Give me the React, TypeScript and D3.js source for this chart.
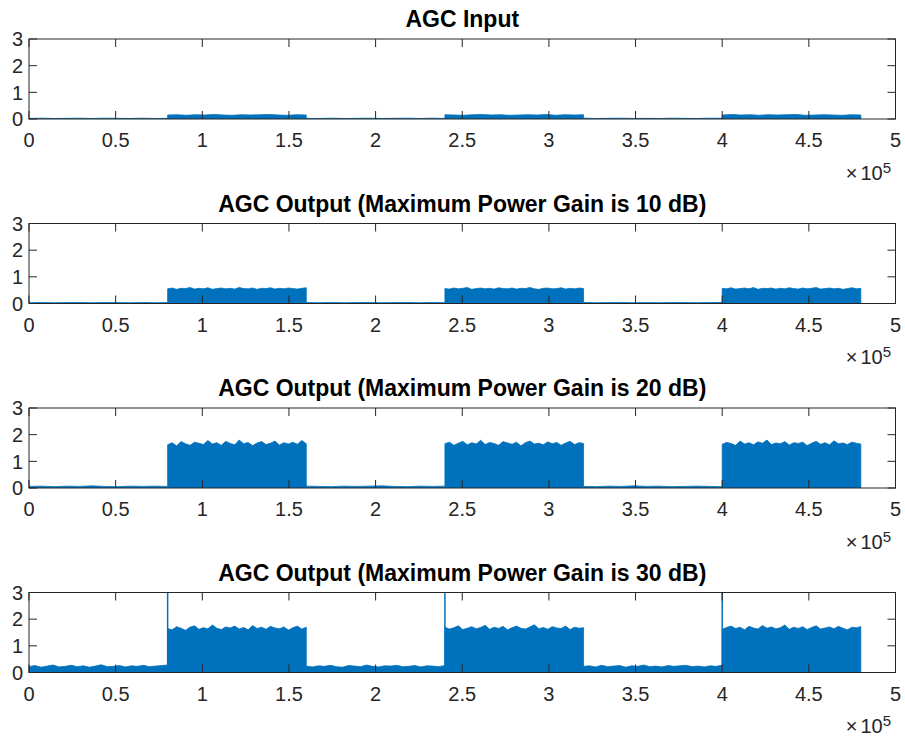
import * as d3 from "d3";

// segment boundaries (x in units of 1e5 samples)
const segStart = [0, 0.8, 1.6, 2.4, 3.2, 4.0];
const segEnd = [0.8, 1.6, 2.4, 3.2, 4.0, 4.8];
const xTicks = [0, 0.5, 1, 1.5, 2, 2.5, 3, 3.5, 4, 4.5, 5];
const yTicks = [0, 1, 2, 3];

const titles = [
  "AGC Input",
  "AGC Output (Maximum Power Gain is 10 dB)",
  "AGC Output (Maximum Power Gain is 20 dB)",
  "AGC Output (Maximum Power Gain is 30 dB)",
];

// AGC input
const inQuiet = [
  [0.02, 0.03, 0.02, 0.025, 0.03, 0.02, 0.03, 0.025, 0.02, 0.03, 0.02, 0.025],
  [0.025, 0.02, 0.03, 0.02, 0.025, 0.03, 0.02, 0.025, 0.03, 0.02, 0.03, 0.02],
  [0.03, 0.02, 0.025, 0.03, 0.02, 0.025, 0.02, 0.03, 0.025, 0.02, 0.03, 0.025],
];
const inBurst = [
  [0.15, 0.16, 0.14, 0.16, 0.15, 0.17, 0.15, 0.14, 0.16, 0.15, 0.16, 0.17, 0.15, 0.14, 0.16, 0.15],
  [0.16, 0.15, 0.14, 0.16, 0.17, 0.15, 0.16, 0.14, 0.15, 0.16, 0.15, 0.17, 0.14, 0.16, 0.15, 0.16],
  [0.15, 0.17, 0.15, 0.16, 0.14, 0.16, 0.15, 0.16, 0.17, 0.14, 0.15, 0.16, 0.15, 0.14, 0.16, 0.15],
];

// 10 dB
const out10Quiet = [
  [0.03, 0.04, 0.03, 0.035, 0.04, 0.03, 0.04, 0.035, 0.03, 0.04, 0.03, 0.035],
  [0.035, 0.03, 0.04, 0.03, 0.035, 0.04, 0.03, 0.035, 0.04, 0.03, 0.04, 0.03],
  [0.04, 0.03, 0.035, 0.04, 0.03, 0.035, 0.03, 0.04, 0.035, 0.03, 0.04, 0.035],
];
const out10Burst = [
  [0.55, 0.58, 0.53, 0.57, 0.56, 0.6, 0.54, 0.57, 0.55, 0.59, 0.53, 0.56, 0.58, 0.55, 0.57, 0.54, 0.6, 0.56, 0.55, 0.58, 0.53, 0.57, 0.56, 0.59, 0.54, 0.57, 0.55, 0.58, 0.56, 0.54, 0.57, 0.59],
  [0.56, 0.54, 0.58, 0.55, 0.57, 0.6, 0.53, 0.56, 0.58, 0.55, 0.57, 0.54, 0.59, 0.56, 0.55, 0.58, 0.54, 0.57, 0.56, 0.6, 0.55, 0.53, 0.57, 0.58, 0.55, 0.56, 0.59, 0.54, 0.57, 0.55, 0.58, 0.56],
  [0.57, 0.55, 0.59, 0.54, 0.56, 0.58, 0.55, 0.6, 0.53, 0.57, 0.56, 0.58, 0.54, 0.57, 0.55, 0.59, 0.56, 0.54, 0.58, 0.55, 0.57, 0.6, 0.54, 0.56, 0.58, 0.55, 0.57, 0.53, 0.56, 0.59, 0.55, 0.57],
];

// 20 dB
const out20Quiet = [
  [0.06, 0.07, 0.05, 0.07, 0.06, 0.08, 0.06, 0.05, 0.07, 0.06, 0.07, 0.06],
  [0.07, 0.06, 0.05, 0.07, 0.06, 0.07, 0.08, 0.06, 0.05, 0.07, 0.06, 0.07],
  [0.06, 0.05, 0.07, 0.06, 0.08, 0.06, 0.07, 0.05, 0.06, 0.07, 0.06, 0.05],
];
const out20Burst = [
  [1.62, 1.7, 1.58, 1.74, 1.66, 1.6, 1.72, 1.68, 1.63, 1.78, 1.65, 1.7, 1.6, 1.75, 1.67, 1.62, 1.8, 1.66, 1.71, 1.59, 1.69, 1.74, 1.63, 1.68, 1.76, 1.61, 1.7, 1.65, 1.72, 1.64, 1.78, 1.66],
  [1.66, 1.72, 1.6, 1.68, 1.75, 1.62, 1.7, 1.65, 1.79, 1.63, 1.71, 1.67, 1.6, 1.74, 1.69, 1.64, 1.72, 1.58, 1.7, 1.76, 1.65, 1.68, 1.62, 1.73, 1.66, 1.71, 1.6, 1.69, 1.75, 1.63, 1.7, 1.67],
  [1.64, 1.71, 1.67, 1.6, 1.76, 1.65, 1.7, 1.62, 1.73, 1.68, 1.8, 1.63, 1.69, 1.66, 1.74, 1.61, 1.7, 1.67, 1.72, 1.59, 1.68, 1.75, 1.64, 1.7, 1.62, 1.77, 1.66, 1.69, 1.63, 1.72, 1.68, 1.65],
];

// 30 dB
const out30Quiet = [
  [0.22, 0.26, 0.2, 0.24, 0.28, 0.21, 0.23, 0.27, 0.22, 0.25, 0.2, 0.24, 0.29, 0.22, 0.23, 0.26, 0.21, 0.25, 0.23, 0.27, 0.22, 0.24, 0.26, 0.28],
  [0.24, 0.21, 0.25, 0.23, 0.27, 0.22, 0.2, 0.26, 0.24, 0.22, 0.28, 0.23, 0.21, 0.25, 0.24, 0.27, 0.22, 0.23, 0.26, 0.21, 0.25, 0.24, 0.22, 0.26],
  [0.23, 0.25, 0.21, 0.27, 0.22, 0.24, 0.26, 0.2, 0.25, 0.23, 0.28, 0.22, 0.24, 0.21, 0.26, 0.23, 0.25, 0.27, 0.22, 0.24, 0.21, 0.25, 0.23, 0.27],
];
const out30Burst = [
  [1.65, 1.6, 1.72, 1.66, 1.58, 1.7, 1.75, 1.62, 1.68, 1.64, 1.78, 1.66, 1.61, 1.71, 1.67, 1.74, 1.63, 1.69, 1.6, 1.76, 1.65, 1.7, 1.62, 1.73, 1.67, 1.64, 1.71, 1.59, 1.68, 1.74, 1.63, 1.7],
  [1.7, 1.63, 1.68, 1.75, 1.61, 1.66, 1.72, 1.64, 1.69, 1.77, 1.62, 1.7, 1.65, 1.73, 1.6, 1.68, 1.74, 1.66, 1.63, 1.71, 1.79, 1.64, 1.69, 1.62, 1.72, 1.67, 1.65, 1.74, 1.61, 1.7, 1.66, 1.68],
  [1.62, 1.69, 1.74, 1.65, 1.7, 1.6, 1.73, 1.67, 1.63, 1.76, 1.66, 1.71, 1.64, 1.68, 1.78, 1.62, 1.7, 1.65, 1.72, 1.61, 1.69, 1.75, 1.63, 1.67, 1.71, 1.64, 1.73, 1.66, 1.6, 1.7, 1.68, 1.72],
];
// overshoot spikes at burst onsets (30 dB case)
const out30SpikeX = [0.8, 2.4, 4.0];
const out30SpikeTop = 3.6;

const panels = [
  { quiet: inQuiet, burst: inBurst, spikes: [] as number[] },
  { quiet: out10Quiet, burst: out10Burst, spikes: [] as number[] },
  { quiet: out20Quiet, burst: out20Burst, spikes: [] as number[] },
  { quiet: out30Quiet, burst: out30Burst, spikes: out30SpikeX },
];

const W = 905;
const H = 738;
const left = 29;
const right = 895.5;
const plotH = 80;
const tops = [39, 223.5, 408, 592.5];
const blue = "#0072BD";
const axisColor = "#262626";
const font = "'Liberation Sans', Arial, Helvetica, sans-serif";
const tickLen = 8;

function buildPoints(quiet: number[][], burst: number[][]) {
  const segs = [quiet[0], burst[0], quiet[1], burst[1], quiet[2], burst[2]];
  const pts: [number, number][] = [];
  segs.forEach((vals, k) => {
    const sx = d3.scaleLinear().domain([0, vals.length - 1]).range([segStart[k], segEnd[k]]);
    vals.forEach((v, i) => pts.push([sx(i), v]));
  });
  return pts;
}

function Panel({ idx }: { idx: number }) {
  const top = tops[idx];
  const x = d3.scaleLinear().domain([0, 5]).range([left, right]);
  const y = d3.scaleLinear().domain([0, 3]).range([top + plotH, top]);
  const p = panels[idx];
  const pts = buildPoints(p.quiet, p.burst);
  const area = d3
    .area<[number, number]>()
    .x((d) => x(d[0]))
    .y0(y(0))
    .y1((d) => y(d[1]));
  const clipId = `clip${idx}`;
  return (
    <g>
      <defs>
        <clipPath id={clipId}>
          <rect x={left} y={top} width={right - left} height={plotH} />
        </clipPath>
      </defs>
      <g clipPath={`url(#${clipId})`}>
        <path d={area(pts) ?? ""} fill={blue} stroke={blue} strokeWidth={0.8} />
        {p.spikes.map((s, i) => (
          <line key={i} x1={x(s)} x2={x(s)} y1={y(0)} y2={y(out30SpikeTop)} stroke={blue} strokeWidth={1.5} />
        ))}
      </g>
      <rect x={left} y={top} width={right - left} height={plotH} fill="none" stroke={axisColor} strokeWidth={1} />
      {xTicks.map((t) => (
        <g key={t}>
          <line x1={x(t)} x2={x(t)} y1={y(0)} y2={y(0) - tickLen} stroke={axisColor} />
          <line x1={x(t)} x2={x(t)} y1={y(3)} y2={y(3) + tickLen} stroke={axisColor} />
          <text x={x(t)} y={y(0) + 28} textAnchor="middle" fontSize={20} fill={axisColor} fontFamily={font}>
            {t}
          </text>
        </g>
      ))}
      {yTicks.map((t) => (
        <g key={t}>
          <line x1={left} x2={left + tickLen} y1={y(t)} y2={y(t)} stroke={axisColor} />
          <line x1={right} x2={right - tickLen} y1={y(t)} y2={y(t)} stroke={axisColor} />
          <text x={23} y={y(t)} dy="0.36em" textAnchor="end" fontSize={20} fill={axisColor} fontFamily={font}>
            {t}
          </text>
        </g>
      ))}
      <text x={(left + right) / 2} y={top - 12} textAnchor="middle" fontSize={23} fontWeight="bold" fill="#000" fontFamily={font}>
        {titles[idx]}
      </text>
      <text x={891} y={top + plotH + 60.5} textAnchor="end" fontSize={20} fill={axisColor} fontFamily={font}>
        ×<tspan dx={3}>10</tspan>
        <tspan fontSize={15} dy={-7}>5</tspan>
      </text>
    </g>
  );
}

export default function App() {
  return (
    <svg width={W} height={H} style={{ position: "absolute", left: 0, top: 0, background: "#fff" }}>
      <rect width={W} height={H} fill="#fff" />
      {panels.map((_, i) => (
        <Panel key={i} idx={i} />
      ))}
    </svg>
  );
}
